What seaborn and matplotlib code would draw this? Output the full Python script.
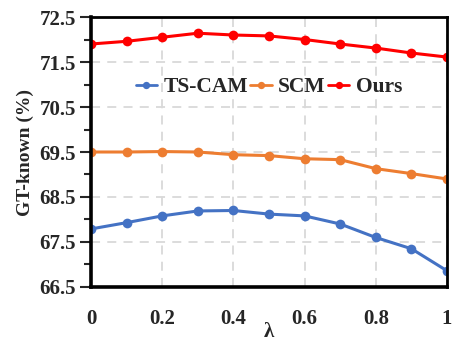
import numpy as np
import matplotlib.pyplot as plt
import seaborn as sns
import pandas as pd
from matplotlib.ticker import MultipleLocator

# lambda values and GT-known accuracy per method
lam = [0, 0.1, 0.2, 0.3, 0.4, 0.5, 0.6, 0.7, 0.8, 0.9, 1.0]
ts_cam = [67.79, 67.93, 68.08, 68.19, 68.20, 68.12, 68.08, 67.90, 67.60, 67.35, 66.86]
scm = [69.50, 69.50, 69.51, 69.50, 69.44, 69.42, 69.35, 69.33, 69.13, 69.02, 68.90]
ours = [71.90, 71.96, 72.05, 72.14, 72.10, 72.08, 72.00, 71.90, 71.81, 71.70, 71.61]

methods = ['TS-CAM', 'SCM', 'Ours']
colors = ['#4472C4', '#ED7D31', '#FF0000']

df = pd.concat([
    pd.DataFrame({'lam': lam, 'acc': vals, 'method': m})
    for m, vals in zip(methods, [ts_cam, scm, ours])
])

sns.set_style('white')
plt.rcParams['font.family'] = ['Liberation Serif', 'DejaVu Serif']
plt.rcParams['font.weight'] = 'bold'

fig = plt.figure(figsize=(4.54, 3.43), dpi=100)
ax = fig.add_axes([0.2004, 0.1633, 0.7842, 0.7871])

sns.lineplot(data=df, x='lam', y='acc', hue='method', palette=colors,
             marker='o', markersize=7, markeredgewidth=0, linewidth=2.2, ax=ax)

ax.set_xlim(0, 1)
ax.set_ylim(66.5, 72.5)
ax.set_xticks([0, 0.2, 0.4, 0.6, 0.8, 1.0])
ax.set_xticklabels(['0', '0.2', '0.4', '0.6', '0.8', '1'])
ax.set_yticks(np.arange(66.5, 72.6, 1.0))
ax.yaxis.set_minor_locator(MultipleLocator(0.5))
ax.grid(True, which='major', linestyle=(0, (5, 4)), color='#D9D9D9', linewidth=1.3)
ax.set_axisbelow(True)

for side in ['left', 'bottom']:
    ax.spines[side].set_linewidth(2.6)
for side in ['top', 'right']:
    ax.spines[side].set_linewidth(2.0)
for s in ax.spines.values():
    s.set_color('black')

ax.tick_params(axis='y', which='major', direction='out', length=8, width=1.5, left=True,
               labelsize=15, pad=3)
ax.tick_params(axis='y', which='minor', direction='out', length=5, width=1.5, left=True)
ax.tick_params(axis='x', which='both', length=0, labelsize=15, pad=16)
for lbl in ax.get_xticklabels() + ax.get_yticklabels():
    lbl.set_fontweight('bold')

ax.set_xlabel('λ', fontsize=15, fontweight='bold', labelpad=-5)
ax.set_ylabel('GT-known (%)', fontsize=14, fontweight='bold', labelpad=4)

leg = ax.legend(loc='center', bbox_to_anchor=(0.5, 0.74), ncol=3, frameon=False,
                handlelength=1.0, handletextpad=0.3, columnspacing=0.1, markerscale=0.75,
                prop={'family': 'Liberation Serif', 'weight': 'bold', 'size': 15.5})
for h in leg.get_lines():
    h.set_linewidth(2.0)

fig.savefig('out.png', dpi=100)
